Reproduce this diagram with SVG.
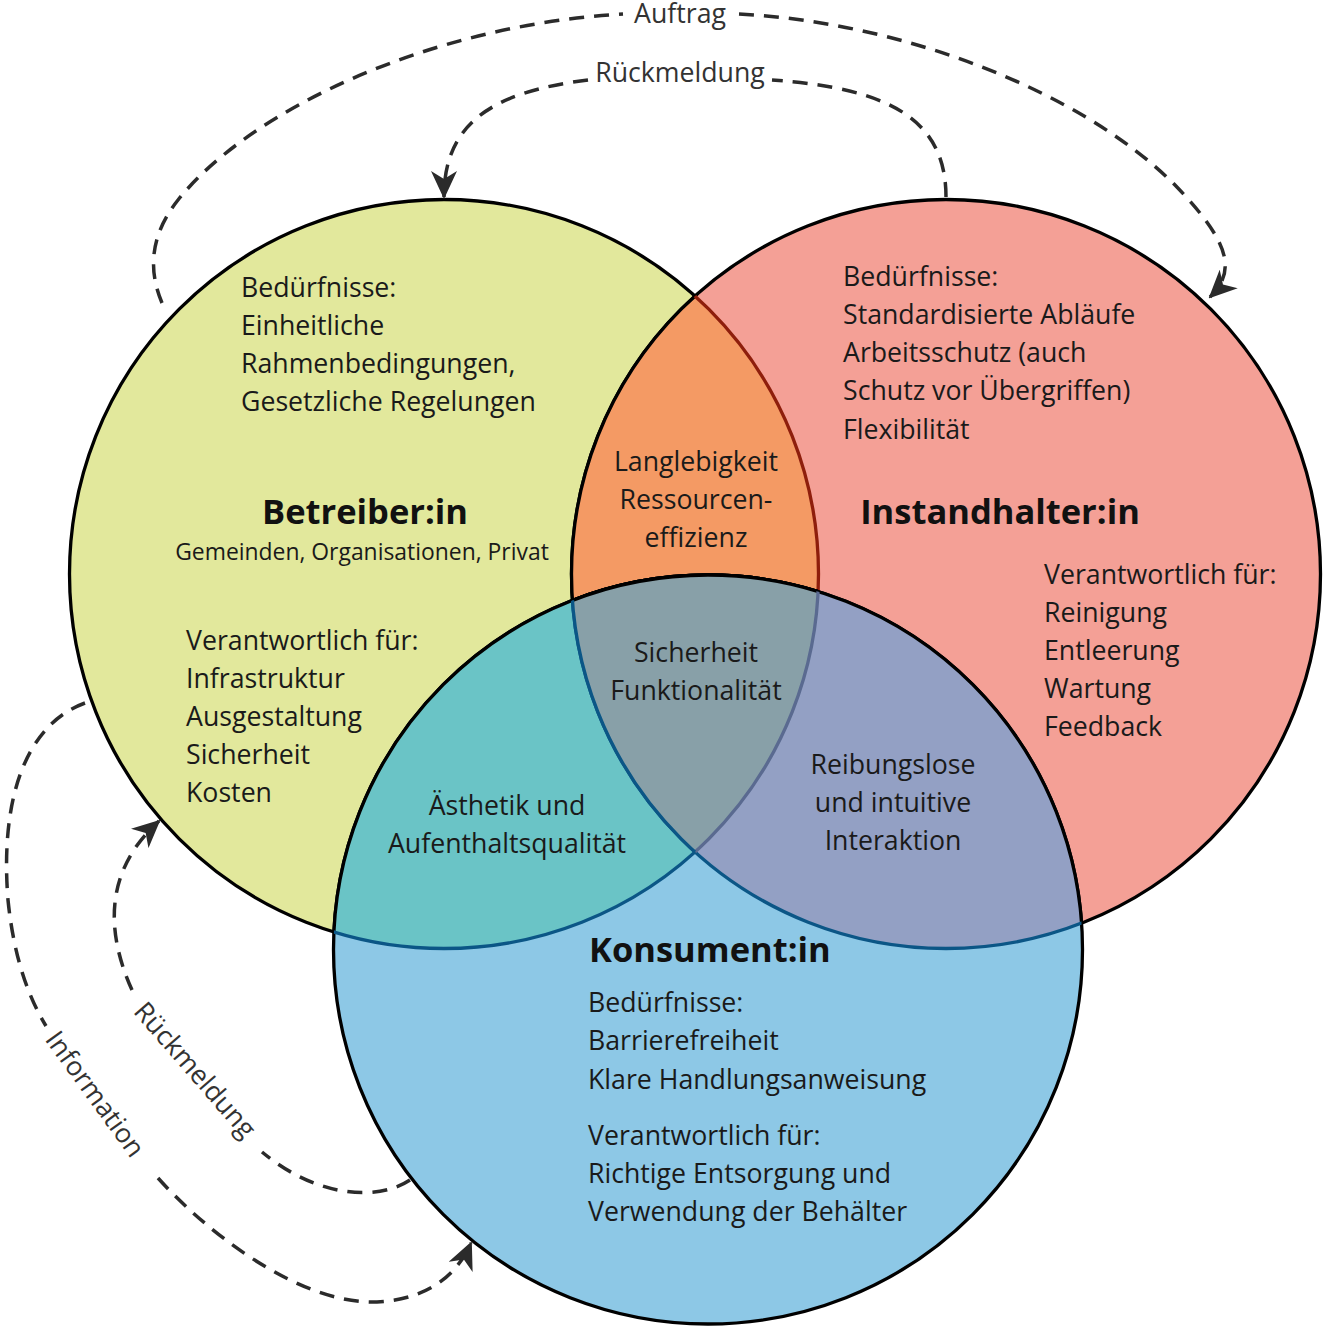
<svg xmlns="http://www.w3.org/2000/svg" width="1323" height="1328" viewBox="0 0 1323 1328">
<style>
.t{font-family:"Open Sans","Noto Sans",sans-serif;font-size:26.7px;fill:#1a1a1a}
.title{font-weight:700;font-size:34.5px;fill:#111}
.sub{font-size:22.9px}
.lbl{fill:#333}
.c{text-anchor:middle}
.dash{fill:none;stroke:#2b2b2b;stroke-width:3.5;stroke-dasharray:15 10}
.ob{fill:none;stroke:#000;stroke-width:3.3}
.odr{fill:none;stroke:#8e1e0c;stroke-width:3.3}
.odb{fill:none;stroke:#0b5686;stroke-width:3.3}
.osl{fill:none;stroke:#5a6a90;stroke-width:3.3}
</style>
<defs>
<clipPath id="cY"><circle cx="444" cy="574" r="374.5"/></clipPath>
<clipPath id="cR"><circle cx="946" cy="574" r="374.5"/></clipPath>
<clipPath id="cB"><circle cx="708" cy="949.5" r="374.5"/></clipPath>
<circle id="Y" cx="444" cy="574" r="374.5"/>
<circle id="R" cx="946" cy="574" r="374.5"/>
<circle id="B" cx="708" cy="949.5" r="374.5"/>
<marker id="arr" viewBox="0 0 28 26" refX="26" refY="13" markerWidth="28" markerHeight="26" markerUnits="userSpaceOnUse" orient="auto">
<path d="M0,0 L28,13 L0,26 L8,13 z" fill="#2b2b2b"/>
</marker>
</defs>
<rect width="1323" height="1328" fill="#fff"/>

<g id="node-betreiber">
<use href="#Y" fill="#e2e89c"/>
<use href="#Y" class="ob"/>
<text class="t" x="241" y="297">Bedürfnisse:</text>
<text class="t" x="241" y="335">Einheitliche</text>
<text class="t" x="241" y="373">Rahmenbedingungen,</text>
<text class="t" x="241" y="411">Gesetzliche Regelungen</text>
<text class="t title c" x="365" y="524">Betreiber:in</text>
<text class="t sub c" x="362" y="560">Gemeinden, Organisationen, Privat</text>
<text class="t" x="186" y="650">Verantwortlich für:</text>
<text class="t" x="186" y="688">Infrastruktur</text>
<text class="t" x="186" y="726">Ausgestaltung</text>
<text class="t" x="186" y="764">Sicherheit</text>
<text class="t" x="186" y="802">Kosten</text>
</g>

<g id="node-instandhalter">
<use href="#R" fill="#f4a096"/>
<use href="#R" class="ob"/>
<text class="t" x="843" y="286">Bedürfnisse:</text>
<text class="t" x="843" y="324">Standardisierte Abläufe</text>
<text class="t" x="843" y="362">Arbeitsschutz (auch</text>
<text class="t" x="843" y="400">Schutz vor Übergriffen)</text>
<text class="t" x="843" y="439">Flexibilität</text>
<text class="t title c" x="1000" y="524">Instandhalter:in</text>
<text class="t" x="1044" y="584">Verantwortlich für:</text>
<text class="t" x="1044" y="622">Reinigung</text>
<text class="t" x="1044" y="660">Entleerung</text>
<text class="t" x="1044" y="698">Wartung</text>
<text class="t" x="1044" y="736">Feedback</text>
</g>

<g id="overlap-betreiber-instandhalter">
<g clip-path="url(#cY)"><use href="#R" fill="#f49a64"/><use href="#R" class="ob"/></g>
<g clip-path="url(#cR)"><use href="#Y" class="odr"/></g>
<text class="t c" x="696" y="471">Langlebigkeit</text>
<text class="t c" x="696" y="509">Ressourcen-</text>
<text class="t c" x="696" y="547">effizienz</text>
</g>

<g id="node-konsument">
<use href="#B" fill="#8dc8e6"/>
<use href="#B" class="ob"/>
<text class="t title" x="589" y="962">Konsument:in</text>
<text class="t" x="588" y="1012">Bedürfnisse:</text>
<text class="t" x="588" y="1050">Barrierefreiheit</text>
<text class="t" x="588" y="1089">Klare Handlungsanweisung</text>
<text class="t" x="588" y="1145">Verantwortlich für:</text>
<text class="t" x="588" y="1183">Richtige Entsorgung und</text>
<text class="t" x="588" y="1221">Verwendung der Behälter</text>
</g>

<g id="overlap-betreiber-konsument">
<g clip-path="url(#cY)"><use href="#B" fill="#6ac4c6"/><use href="#B" class="ob"/></g>
<g clip-path="url(#cB)"><use href="#Y" class="odb"/></g>
<text class="t c" x="507" y="815">Ästhetik und</text>
<text class="t c" x="507" y="853">Aufenthaltsqualität</text>
</g>

<g id="overlap-instandhalter-konsument">
<g clip-path="url(#cR)"><use href="#B" fill="#93a0c4"/><use href="#B" class="ob"/></g>
<g clip-path="url(#cB)"><use href="#R" class="odb"/></g>
<text class="t c" x="893" y="774">Reibungslose</text>
<text class="t c" x="893" y="812">und intuitive</text>
<text class="t c" x="893" y="850">Interaktion</text>
</g>

<g id="overlap-alle">
<g clip-path="url(#cY)"><g clip-path="url(#cR)"><use href="#B" fill="#88a0a8"/><use href="#B" class="ob"/></g></g>
<g clip-path="url(#cB)"><g clip-path="url(#cR)"><use href="#Y" class="osl"/></g></g>
<g clip-path="url(#cB)"><g clip-path="url(#cY)"><use href="#R" class="odb"/></g></g>
<text class="t c" x="696" y="662">Sicherheit</text>
<text class="t c" x="696" y="700">Funktionalität</text>
</g>

<g id="connectors">
<path class="dash" d="M162,303 C148,270 150,235 178,200 C250,110 430,25 623,14"/>
<path class="dash" d="M739,14 C900,22 1080,90 1175,185 C1228,240 1238,270 1210,297" marker-end="url(#arr)"/>
<text class="t lbl c" x="680" y="23">Auftrag</text>
<path class="dash" d="M946,197 C946,120 890,88 772,80"/>
<path class="dash" d="M588,80 C490,92 444,125 444,197" marker-end="url(#arr)"/>
<text class="t lbl c" x="680" y="82">Rückmeldung</text>
<path class="dash" d="M85,703 C25,725 0,800 8,900 C14,960 30,1000 46,1026"/>
<path class="dash" d="M158,1178 C200,1225 290,1300 370,1302 C420,1302 455,1280 471,1243" marker-end="url(#arr)"/>
<text class="t lbl c" transform="translate(95,1094) rotate(54)" y="9">Information</text>
<path class="dash" d="M410,1180 C380,1200 320,1200 262,1152"/>
<path class="dash" d="M132,990 C105,930 105,870 159,821" marker-end="url(#arr)"/>
<text class="t lbl c" transform="translate(195,1070) rotate(49)" y="9">Rückmeldung</text>
</g>
</svg>
